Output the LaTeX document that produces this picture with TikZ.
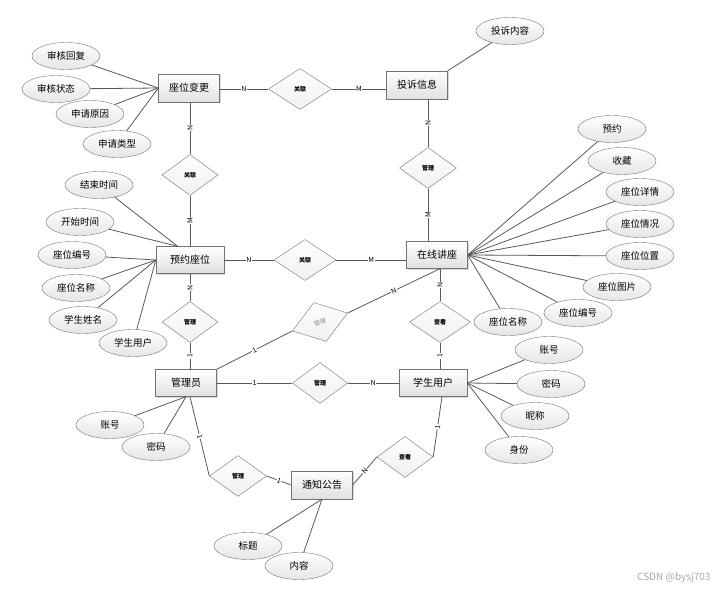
\documentclass[tikz,border=0pt]{standalone}
\usepackage{fontspec}
\setmainfont{Noto Sans CJK SC}
\usetikzlibrary{shapes.geometric,shadows,calc}
\begin{document}
\begin{tikzpicture}[x=1pt,y=-1pt,
  ent/.style={rectangle,draw=black!55,top color=white,bottom color=black!12,minimum width=61pt,minimum height=28pt,inner sep=1pt,font=\fontsize{10}{12}\selectfont,drop shadow={shadow xshift=1pt,shadow yshift=-1pt,opacity=0.3}},
  attr/.style={ellipse,draw=black!55,top color=white,bottom color=black!10,minimum width=68pt,minimum height=27pt,inner sep=0pt,font=\fontsize{9.5}{11}\selectfont},
  rel/.style={diamond,draw=black!55,top color=white,bottom color=black!6,minimum width=57pt,minimum height=41pt,inner sep=0pt,font=\fontsize{6}{7}\selectfont\bfseries},
  ln/.style={draw=black!65,line width=0.8pt},
  card/.style={fill=white,inner sep=0.6pt,font=\fontsize{7}{8}\selectfont},
  vcard/.style={card,rotate=90}]
\useasboundingbox (0,0) rectangle (726,591);

% entities
\node[ent] (bg) at (189,88) {座位变更};
\node[ent] (ts) at (417,85) {投诉信息};
\node[ent,minimum width=68pt,minimum height=27pt] (yy) at (190,260) {预约座位};
\node[ent,minimum height=27pt] (zx) at (437,255) {在线讲座};
\node[ent,minimum height=27pt] (gly) at (186,383) {管理员};
\node[ent,minimum width=68pt,minimum height=27pt] (xs) at (433,383) {学生用户};
\node[ent] (tz) at (322,485) {通知公告};

% relationships
\node[rel,minimum width=63pt] (r1) at (300,89) {关联};
\node[rel,minimum width=56pt] (r2) at (190,175) {关联};
\node[rel] (r3) at (428,168) {管理};
\node[rel,minimum width=62pt] (r4) at (305,260) {关联};
\node[rel,minimum width=56pt] (r5) at (190,322) {管理};
\node[rel,minimum width=58pt,rotate=18,font=\fontsize{6}{7}\selectfont,text=black!45] (r8) at (320,322) {管理};
\node[rel,minimum width=55pt] (r7) at (320,383) {管理};
\node[rel,minimum width=61pt] (r6) at (440,322) {查看};
\node[rel] (r9) at (238,476) {管理};
\node[rel,minimum width=56pt] (r10) at (405,457) {查看};

% attributes
\node[attr] (a1) at (66,56) {审核回复};
\node[attr] (a2) at (56,89) {审核状态};
\node[attr] (a3) at (90,114) {申请原因};
\node[attr] (a4) at (117,144) {申请类型};
\node[attr] (a5) at (510,31) {投诉内容};
\node[attr] (b1) at (99,185) {结束时间};
\node[attr] (b2) at (80,222) {开始时间};
\node[attr] (b3) at (72,255) {座位编号};
\node[attr] (b4) at (76,288) {座位名称};
\node[attr] (b5) at (83,320) {学生姓名};
\node[attr] (b6) at (133,343) {学生用户};
\node[attr] (c1) at (612,129) {预约};
\node[attr] (c2) at (622,161) {收藏};
\node[attr] (c3) at (640,192) {座位详情};
\node[attr] (c4) at (640,224) {座位情况};
\node[attr] (c5) at (640,256) {座位位置};
\node[attr] (c6) at (617,287) {座位图片};
\node[attr] (c7) at (578,313) {座位编号};
\node[attr] (c8) at (508,322) {座位名称};
\node[attr] (d1) at (549,350) {账号};
\node[attr] (d2) at (551,384) {密码};
\node[attr] (d3) at (535,416) {昵称};
\node[attr] (d4) at (519,450) {身份};
\node[attr] (e1) at (110,425) {账号};
\node[attr] (e2) at (156,447) {密码};
\node[attr] (f1) at (248,546) {标题};
\node[attr] (f2) at (299,566) {内容};

\coordinate (yyT) at ($(yy.north west)!0.32!(yy.north east)$);
\coordinate (zxB) at ($(zx.south)+(3,0)$);
\coordinate (glyB) at ($(gly.south)+(4,0)$);
\coordinate (xsB) at ($(xs.south)+(9,0)$);

% attribute lines
\foreach \a in {a1,a2,a3,a4} \draw[ln] (\a) -- (bg.west);
\draw[ln] (a5) -- (ts.north east);
\foreach \a in {b1,b2} \draw[ln] (\a) -- (yyT);
\foreach \a in {b3,b4,b5,b6} \draw[ln] (\a) -- (yy.west);
\foreach \a in {c1,c2,c3,c4,c5,c6,c7,c8} \draw[ln] (\a) -- (zx.east);
\foreach \a in {d1,d2,d3,d4} \draw[ln] (\a) -- (xs.east);
\foreach \a in {e1,e2} \draw[ln] (\a) -- (gly.south);
\foreach \a in {f1,f2} \draw[ln] (\a) -- (tz.south);

% relationship lines
\draw[ln] (r1.west -| bg.east) -- node[card]{N} (r1.west);
\draw[ln] (r1.east) -- node[card]{M} (r1.east -| ts.west);
\draw[ln] (r2.north |- bg.south) -- node[vcard]{N} (r2.north);
\draw[ln] (r2.south) -- node[vcard]{M} (r2.south |- yy.north);
\draw[ln] (r3.north |- ts.south) -- node[vcard]{N} (r3.north);
\draw[ln] (r3.south) -- node[vcard]{M} (r3.south |- zx.north);
\draw[ln] (yy.east) -- node[card]{N} (r4.west);
\draw[ln] (r4.east) -- node[card]{M} (r4.east -| zx.west);
\draw[ln] (r5.north |- yy.south) -- node[vcard]{N} (r5.north);
\draw[ln] (r5.south) -- node[vcard]{1} (r5.south |- gly.north);
\draw[ln] (r6.north |- zx.south) -- node[vcard]{N} (r6.north);
\draw[ln] (r6.south) -- node[vcard]{1} (r6.south |- xs.north);
\draw[ln] (gly.east) -- node[card]{1} (r7.west);
\draw[ln] (r7.east) -- node[card]{N} (xs.west);
\draw[ln] (gly.north east) -- node[card,sloped]{1} (r8.west);
\draw[ln] (r8.east) -- node[card,sloped]{N} (zxB);
\draw[ln] (glyB) -- node[card,sloped]{1} (r9.west);
\draw[ln] (r9.east) -- node[card,sloped]{1} (tz.west);
\draw[ln] (tz.east) -- node[card,sloped]{N} (r10.west);
\draw[ln] (r10.east) -- node[card,sloped]{1} (xsB);

\node[text=black!35,font=\fontsize{10}{12}\selectfont,anchor=east] (wm) at (714,578) {CSDN @bysj703};
\end{tikzpicture}
\end{document}
